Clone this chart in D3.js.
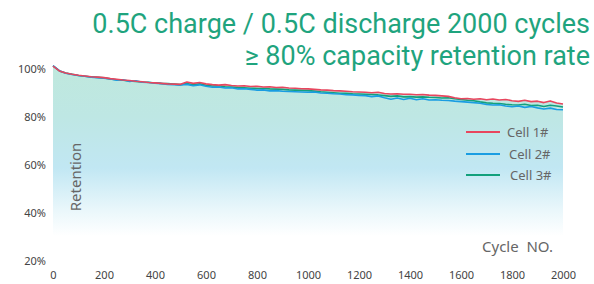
<!DOCTYPE html>
<html>
<head>
<meta charset="utf-8">
<script src="https://cdn.jsdelivr.net/npm/d3@7"></script>
<style>
  body { margin: 0; background: #fff; }
  svg { display: block; font-family: "Noto Sans", "Open Sans", sans-serif; }
</style>
</head>
<body>
<svg id="chart" width="594" height="284"></svg>
<script>
// cycle numbers, every 25 cycles
const cycles = d3.range(0, 2001, 25);

const cell1 = [101.2, 99.2, 98.3, 97.8, 97.4, 97.1, 96.8, 96.6, 96.4, 96.0, 95.7, 95.4, 95.2, 94.9, 94.7, 94.4, 94.2,
  94.0, 93.8, 93.7, 93.6, 94.6, 94.0, 94.4, 93.8, 93.5, 93.3, 93.5, 93.1, 92.9, 93.0, 92.7, 92.8, 92.5, 92.6, 92.3, 92.4,
  92.1, 92.0, 91.8, 91.7, 91.5, 91.3, 91.2, 91.0, 90.9, 90.7, 90.5, 90.4, 90.3, 90.1, 90.3, 89.8, 89.6, 89.7, 89.5, 89.5,
  89.3, 89.4, 89.1, 89.0, 88.8, 88.6, 88.0, 87.6, 87.7, 87.4, 87.6, 87.2, 87.5, 87.1, 87.3, 86.8, 86.5, 87.0, 86.4, 86.6,
  86.0, 86.7, 85.8, 85.4];

const cell2 = [101.4, 99.3, 98.2, 97.7, 97.3, 97.0, 96.6, 96.4, 96.2, 95.8, 95.3, 95.5, 94.8, 95.1, 94.5, 94.4, 94.1,
  93.9, 93.6, 93.5, 93.3, 93.6, 93.0, 93.4, 92.8, 92.4, 92.5, 92.1, 92.2, 91.7, 91.8, 91.5, 91.2, 91.3, 90.9, 91.0, 90.7,
  90.6, 90.5, 90.4, 90.3, 90.4, 90.0, 89.9, 89.7, 89.6, 89.3, 89.2, 89.0, 88.9, 88.5, 88.8, 88.0, 87.4, 87.9, 87.3, 87.8,
  87.2, 87.6, 87.1, 87.2, 87.0, 86.9, 86.6, 86.4, 86.2, 86.0, 85.7, 85.2, 85.0, 85.1, 84.6, 84.3, 84.6, 84.0, 84.4, 83.8,
  83.3, 83.7, 83.1, 83.0];

const cell3 = [101.3, 99.2, 98.3, 97.8, 97.3, 97.0, 96.7, 96.5, 96.3, 95.9, 95.5, 95.3, 95.0, 94.8, 94.6, 94.5, 94.2,
  94.0, 93.9, 93.7, 93.5, 93.9, 93.4, 93.8, 93.2, 92.9, 93.0, 92.6, 92.5, 92.3, 92.2, 92.0, 91.9, 91.9, 91.7, 91.6, 91.5,
  91.3, 91.2, 91.1, 91.0, 90.8, 90.5, 90.3, 90.1, 89.9, 89.9, 89.7, 89.6, 89.5, 89.4, 89.2, 88.9, 88.6, 88.8, 88.4, 88.5,
  88.3, 88.4, 88.2, 88.1, 87.9, 88.0, 87.6, 87.3, 87.0, 86.8, 86.3, 85.9, 85.7, 85.6, 85.3, 85.1, 85.0, 85.3, 84.8, 84.9,
  84.4, 84.9, 84.6, 84.2];

const seriesNames = ["Cell 1#", "Cell 2#", "Cell 3#"];
const seriesColors = ["#e8465e", "#1a9de2", "#13a07c"];
const xTicks = [0, 200, 400, 600, 800, 1000, 1200, 1400, 1600, 1800, 2000];
const yTicks = [20, 40, 60, 80, 100];
const titleLines = ["0.5C charge / 0.5C discharge 2000 cycles", "\u2265 80% capacity retention rate"];

const svg = d3.select("#chart");

const x = d3.scaleLinear().domain([0, 2000]).range([53, 563]);
const y = d3.scaleLinear().domain([20, 100]).range([261, 69]);

// background gradient under the curves
const defs = svg.append("defs");
const grad = defs.append("linearGradient")
  .attr("id", "fillGrad")
  .attr("gradientUnits", "userSpaceOnUse")
  .attr("x1", 0).attr("y1", 66).attr("x2", 0).attr("y2", 236);
grad.append("stop").attr("offset", "0").attr("stop-color", "#bfe8dd");
grad.append("stop").attr("offset", "0.3").attr("stop-color", "#bee7e4");
grad.append("stop").attr("offset", "0.6").attr("stop-color", "#c1e7f3");
grad.append("stop").attr("offset", "0.85").attr("stop-color", "#eaf7fb");
grad.append("stop").attr("offset", "1").attr("stop-color", "#ffffff");

const allCells = [cell1, cell2, cell3];
const upper = cycles.map((c, i) => ({ c: c, v: d3.max(allCells, s => s[i]) }));

svg.append("path")
  .datum(upper)
  .attr("fill", "url(#fillGrad)")
  .attr("d", d3.area()
    .x(d => x(d.c))
    .y0(y(20))
    .y1(d => y(d.v)));

// axes, no lines, labels only
const yAxis = svg.append("g")
  .attr("transform", "translate(" + x(0) + ",0)")
  .call(d3.axisLeft(y).tickValues(yTicks).tickSize(0).tickPadding(7).tickFormat(d => d + "%"));
yAxis.select(".domain").remove();
yAxis.selectAll("text").attr("font-size", 11).attr("fill", "#444").attr("font-family", "Noto Sans");

const xAxis = svg.append("g")
  .attr("transform", "translate(0," + y(20) + ")")
  .call(d3.axisBottom(x).tickValues(xTicks).tickSize(0).tickPadding(10).tickFormat(d3.format("d")));
xAxis.select(".domain").remove();
xAxis.selectAll("text").attr("font-size", 11).attr("fill", "#444").attr("font-family", "Noto Sans");

// series lines
const line = d3.line()
  .x((d, i) => x(cycles[i]))
  .y(d => y(d));

[2, 1, 0].forEach(k => {
  svg.append("path")
    .datum(allCells[k])
    .attr("fill", "none")
    .attr("stroke", seriesColors[k])
    .attr("stroke-width", 1.6)
    .attr("stroke-linejoin", "round")
    .attr("d", line);
});

// axis titles
svg.append("text")
  .attr("transform", "translate(81,177) rotate(-90)")
  .attr("text-anchor", "middle")
  .attr("font-size", 15)
  .attr("fill", "#666")
  .text("Retention");

svg.append("text")
  .attr("x", 553).attr("y", 252)
  .attr("text-anchor", "end")
  .attr("font-size", 15)
  .attr("fill", "#666")
  .style("white-space", "pre")
  .text("Cycle  NO.");

// legend
const legendY = [132, 154, 175];
const legendX = [507, 509, 510];
seriesNames.forEach((name, k) => {
  svg.append("line")
    .attr("x1", 466).attr("x2", 500)
    .attr("y1", legendY[k]).attr("y2", legendY[k])
    .attr("stroke", seriesColors[k])
    .attr("stroke-width", 2);
  svg.append("text")
    .attr("x", legendX[k]).attr("y", legendY[k] + 4.5)
    .attr("font-size", 13)
    .attr("fill", "#666")
    .text(name);
});

// title
svg.append("g").selectAll("text")
  .data(titleLines)
  .join("text")
  .attr("x", 590)
  .attr("y", (d, i) => 33 + i * 32)
  .attr("text-anchor", "end")
  .attr("font-family", "Roboto")
  .attr("font-size", 27)
  .attr("fill", "#1fa47e")
  .text(d => d);
</script>
</body>
</html>
